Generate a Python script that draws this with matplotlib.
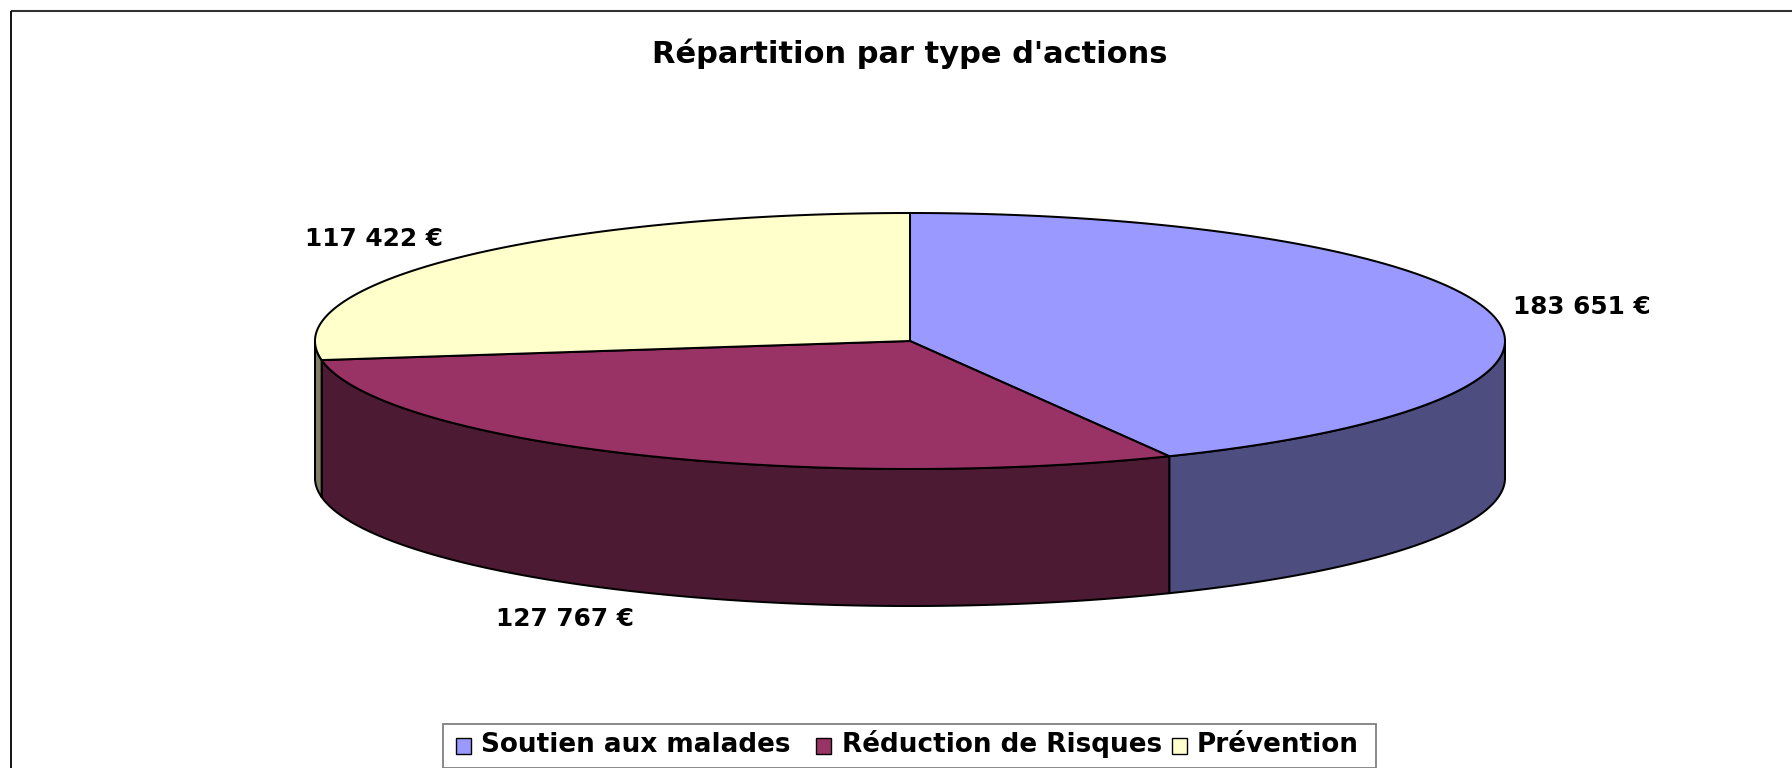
import numpy as np
import matplotlib
matplotlib.use("Agg")
import matplotlib.pyplot as plt
from matplotlib.patches import Polygon, Rectangle

title = "Répartition par type d'actions"
categories = ["Soutien aux malades", "Réduction de Risques", "Prévention"]
values = [183651, 127767, 117422]
value_labels = ["183 651 €", "127 767 €", "117 422 €"]
top_colors = ["#9999FF", "#993366", "#FFFFCC"]
side_colors = ["#4D4D80", "#4D1A33", "#808066"]

W, H = 1792, 768
CX, CY, RX, RY, DEPTH = 910, 341, 595, 128, 137
LW = 1.45

plt.rcParams["font.family"] = ["DejaVu Sans"]
fig = plt.figure(figsize=(W / 100, H / 100), dpi=100, facecolor="white")
ax = fig.add_axes([0, 0, 1, 1])
ax.set_xlim(0, W)
ax.set_ylim(H, 0)
ax.axis("off")


def rim(a0, a1, n=200):
    t = np.radians(np.linspace(a0, a1, n))
    return np.column_stack([CX + RX * np.sin(t), CY - RY * np.cos(t)])


# outer frame: only the top and left edges fall inside the picture
ax.plot([11, W], [11, 11], color="#333333", lw=1.5, solid_capstyle="butt", zorder=1)
ax.plot([11, 11], [11, H], color="black", lw=1.3, solid_capstyle="butt", zorder=1)

fractions = np.array(values) / np.sum(values)
edges = np.concatenate([[0], np.cumsum(fractions) * 360])

# side walls (only the part of the rim facing the viewer: 90..270 degrees)
for i in range(3):
    a0, a1 = max(edges[i], 90), min(edges[i + 1], 270)
    if a1 <= a0:
        continue
    r = rim(a0, a1)
    low = r + [0, DEPTH]
    ax.add_patch(Polygon(np.vstack([r, low[::-1]]), closed=True, fc=side_colors[i],
                         ec="black", lw=LW, joinstyle="round", zorder=2))

# top wedges
for i in range(3):
    r = rim(edges[i], edges[i + 1], 300)
    ax.add_patch(Polygon(np.vstack([[CX, CY], r]), closed=True, fc=top_colors[i],
                         ec="black", lw=LW, joinstyle="round", zorder=3))

# title and value labels
ax.text(910, 63, title, ha="center", va="baseline", fontsize=22, fontweight="bold", color="black")
ax.text(1582, 314, value_labels[0], ha="center", va="baseline", fontsize=17.8, fontweight="bold")
ax.text(565, 626, value_labels[1], ha="center", va="baseline", fontsize=17.8, fontweight="bold")
ax.text(374, 246, value_labels[2], ha="center", va="baseline", fontsize=17.8, fontweight="bold")

# legend
ax.add_patch(Rectangle((443, 724), 933, 44, fc="white", ec="#808080", lw=1.3, zorder=4))
swatch_x = [456, 816, 1172]
text_x = [481, 842, 1197]
for sx, tx, cat, col in zip(swatch_x, text_x, categories, top_colors):
    ax.add_patch(Rectangle((sx, 738), 15, 16, fc=col, ec="black", lw=1.0, zorder=5))
    ax.text(tx, 752, cat, ha="left", va="baseline", fontsize=18.9, fontweight="bold", zorder=5)

fig.savefig("out.png", dpi=100, facecolor="white")
